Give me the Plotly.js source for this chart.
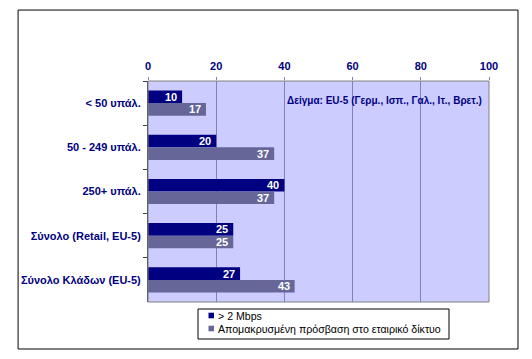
<!DOCTYPE html>
<html><head><meta charset="utf-8">
<script src="https://cdn.plot.ly/plotly-3.0.1.min.js"></script>
<style>html,body{margin:0;padding:0;background:#fff;}#chart{width:532px;height:359px;}</style>
</head><body><div id="chart"></div>
<script>
var categories = ["< 50 υπάλ.", "50 - 249 υπάλ.", "250+ υπάλ.", "Σύνολο (Retail, EU-5)", "Σύνολο Κλάδων (EU-5)"];
var seriesNames = ["> 2 Mbps", "Απομακρυσμένη πρόσβαση στο εταιρικό δίκτυο"];
var broadband = [10, 20, 40, 25, 27];
var remoteAccess = [17, 37, 37, 25, 43];
var xTicks = [0, 20, 40, 60, 80, 100];
var note = "Δείγμα: EU-5 (Γερμ., Ισπ., Γαλ., Ιτ., Βρετ.)";
var colors = ['#000080', '#666699'];

var F = "Liberation Sans, Arial, sans-serif";
function tr(vals, name, color) {
  return {
    type: 'bar', orientation: 'h', x: vals, y: categories, name: name,
    marker: {color: color, line: {width: 0}},
    textposition: 'none', hoverinfo: 'skip', showlegend: false
  };
}
var data = [tr(broadband, seriesNames[0], colors[0]), tr(remoteAccess, seriesNames[1], colors[1])];

var annotations = [{xref: 'x', yref: 'paper', x: 98.5, y: 0.914, xanchor: 'right', yanchor: 'middle',
    text: note, showarrow: false, font: {family: F, size: 10, color: '#000080', weight: 'bold'}}];
[broadband, remoteAccess].forEach(function (vals, s) {
  vals.forEach(function (v, i) {
    annotations.push({xref: 'x', yref: 'y', x: v, y: categories[i], xanchor: 'right', yanchor: 'middle',
      xshift: -3, yshift: s === 0 ? 6.3 : -6.3, text: String(v), showarrow: false,
      font: {family: F, size: 11, color: '#ffffff', weight: 'bold'}});
  });
});
// legend (drawn manually for compact Excel-style look)
var shapes = [
  {type: 'rect', xref: 'paper', yref: 'paper', x0: 0, x1: 1, y0: 0, y1: 1,
   line: {color: '#808080', width: 1}, fillcolor: 'rgba(0,0,0,0)', layer: 'above'},
  {type: 'rect', xref: 'paper', yref: 'paper', x0: -0.381, x1: 1.085, y0: -0.2127, y1: 1.321,
   line: {color: '#000000', width: 1}, fillcolor: 'rgba(0,0,0,0)'},
  {type: 'rect', xref: 'paper', yref: 'paper', x0: (198-148)/341, x1: (449-148)/341,
   y0: (302-339)/221, y1: (302-309)/221, line: {color: '#000000', width: 1}, fillcolor: '#ffffff'}
];
seriesNames.forEach(function (n, s) {
  var cy = s === 0 ? 315.5 : 328.5;
  shapes.push({type: 'rect', xref: 'paper', yref: 'paper', x0: (208.5-148)/341, x1: (214-148)/341,
    y0: (302-(cy+2.8))/221, y1: (302-(cy-2.8))/221, line: {width: 0}, fillcolor: colors[s]});
  annotations.push({xref: 'paper', yref: 'paper', x: (216-148)/341, y: (302-cy)/221, xanchor: 'left', yanchor: 'middle',
    text: n, showarrow: false, font: {family: F, size: 10.6, color: '#000000'}});
});

var layout = {
  width: 532, height: 359,
  margin: {l: 148, r: 43, t: 81, b: 57},
  paper_bgcolor: '#ffffff', plot_bgcolor: '#ccccff',
  barmode: 'group', bargap: 0.43, bargroupgap: 0,
  showlegend: false,
  xaxis: {side: 'top', range: [0, 100], tickvals: xTicks, ticktext: xTicks.map(String),
    showgrid: true, gridcolor: '#8080c0', gridwidth: 1, zeroline: false,
    ticks: 'outside', ticklen: 3, tickcolor: '#8080c0', showline: false, ticklabelstandoff: 3,
    tickfont: {family: F, size: 11, color: '#000080', weight: 'bold'}, fixedrange: true},
  yaxis: {type: 'category', autorange: 'reversed', showgrid: false, zeroline: false,
    showline: true, linecolor: '#404040', linewidth: 1,
    ticks: 'outside', tickson: 'boundaries', ticklen: 4, tickcolor: '#404040',
    tickfont: {family: F, size: 11, color: '#000080', weight: 'bold'}, ticklabelstandoff: 4, fixedrange: true},
  shapes: shapes,
  annotations: annotations
};
Plotly.newPlot('chart', data, layout, {displayModeBar: false, staticPlot: true});
</script></body></html>
